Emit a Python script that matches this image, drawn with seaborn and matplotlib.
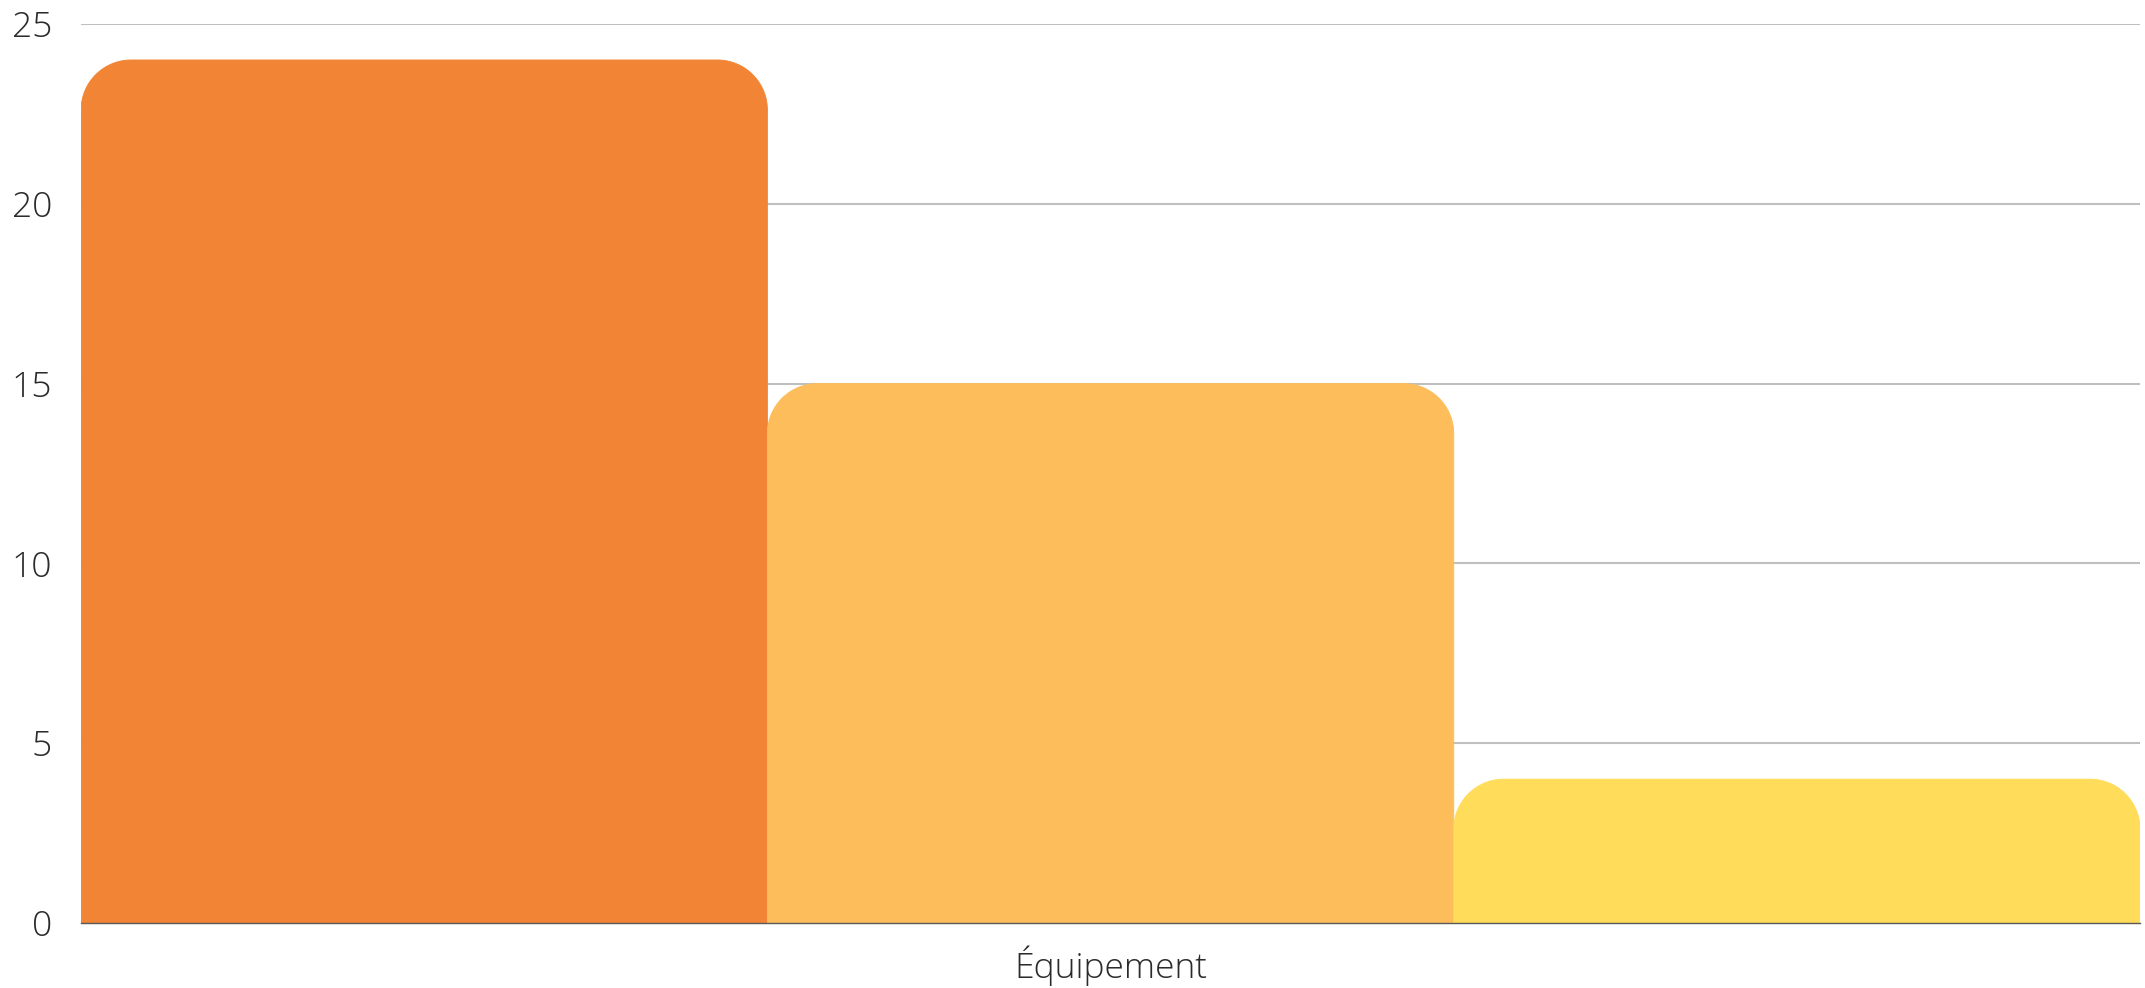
import numpy as np
import pandas as pd
import matplotlib
matplotlib.use("Agg")
import matplotlib.pyplot as plt
from matplotlib.patches import Polygon
import seaborn as sns

# Data
categories = ["Équipement"]
series = ["Série 1", "Série 2", "Série 3"]
values = [24, 15, 4]
colors = ["#F28435", "#FDBD5A", "#FFDC59"]
y_ticks = [0, 5, 10, 15, 20, 25]

sns.set_style("white")
plt.rcParams["font.family"] = ["Open Sans", "DejaVu Sans"]

df = pd.DataFrame({
    "categorie": categories * len(series),
    "serie": series,
    "valeur": values,
})

fig = plt.figure(figsize=(21.45, 9.88), dpi=100)
ax = fig.add_axes([0.0378, 0.0658, 0.9599, 0.9099])

sns.barplot(data=df, x="categorie", y="valeur", hue="serie", palette=colors,
            width=1, saturation=1, dodge=True, legend=False, ax=ax)

ax.set_xlim(-0.5, 0.5)
ax.set_ylim(0, 25)
ax.set_yticks(y_ticks)
ax.set_axisbelow(True)
ax.yaxis.grid(True, color="#BFBFBF", linewidth=1.5)
ax.xaxis.grid(False)
for side in ["left", "top", "right"]:
    ax.spines[side].set_visible(False)
ax.spines["bottom"].set_color("#595959")
ax.spines["bottom"].set_linewidth(1.0)
ax.spines["bottom"].set_zorder(5)
ax.tick_params(axis="y", length=0, pad=21, labelsize=25.5, labelcolor="#2b2b2b")
ax.tick_params(axis="x", length=0, pad=16, labelsize=25.5, labelcolor="#2b2b2b")
for lbl in ax.get_yticklabels() + ax.get_xticklabels():
    lbl.set_fontweight("light")
ax.set_xlabel("")
ax.set_ylabel("")

# swap the square bars for ones with round top corners (~50 px radius)
fig.canvas.draw()
bbox = ax.get_window_extent()
r_x = 50 / bbox.width        # x range is 1.0
r_y = 50 / (bbox.height / 25.0)
t = np.linspace(0, np.pi / 2, 40)
for patch in list(ax.patches):
    x0, w, h = patch.get_x(), patch.get_width(), patch.get_height()
    fc = patch.get_facecolor()
    patch.remove()
    left = np.column_stack([x0 + r_x - r_x * np.cos(t), h - r_y + r_y * np.sin(t)])
    right = np.column_stack([x0 + w - r_x + r_x * np.sin(t), h - r_y + r_y * np.cos(t)])
    verts = np.vstack([[x0, 0], left, right, [x0 + w, 0]])
    ax.add_patch(Polygon(verts, closed=True, facecolor=fc, edgecolor=fc,
                         linewidth=0.6, zorder=2))

fig.savefig("out.png", dpi=100)
